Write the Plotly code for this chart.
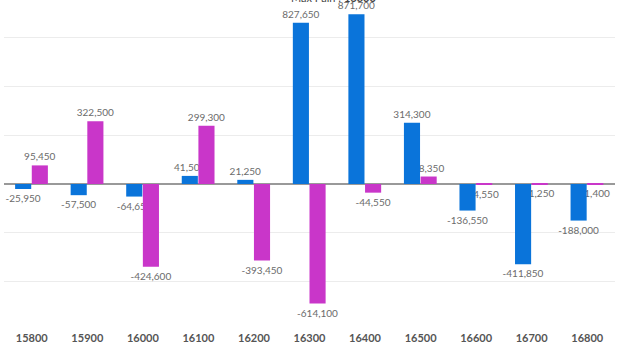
import plotly.graph_objects as go

# Strike prices and change in open interest per side
strikes = ["15800", "15900", "16000", "16100", "16200", "16300",
           "16400", "16500", "16600", "16700", "16800"]
call_oi = [-25950, -57500, -64650, 41500, 21250, 827650,
           871700, 314300, -136550, -411850, -188000]
put_oi = [95450, 322500, -424600, 299300, -393450, -614100,
          -44550, 38350, -4550, -1250, -1400]
max_pain = "16300"

CALL_COLOR = "#0A74DA"
PUT_COLOR = "#C936C9"
FONT = "Lato, sans-serif"
BAR_W = 0.29
OFFSETS = {"call": -0.30, "put": 0.0}


def fmt(v):
    return f"{v:,}"


fig = go.Figure()

# Value labels first (on invisible bars) so that the coloured bars sit on top
for key, vals in (("call", call_oi), ("put", put_oi)):
    fig.add_trace(go.Bar(
        x=strikes, y=vals, width=BAR_W, offset=OFFSETS[key],
        marker=dict(color="rgba(0,0,0,0)", line=dict(width=0)),
        text=[fmt(v) for v in vals], textposition="outside",
        outsidetextfont=dict(family=FONT, size=10, color="#6b6b6b"),
        constraintext="none", cliponaxis=False,
        hoverinfo="skip", showlegend=False,
    ))

# The bars themselves
for key, vals, color, name in (("call", call_oi, CALL_COLOR, "Call"),
                               ("put", put_oi, PUT_COLOR, "Put")):
    fig.add_trace(go.Bar(
        x=strikes, y=vals, width=BAR_W, offset=OFFSETS[key],
        marker=dict(color=color, line=dict(width=0)),
        name=name, showlegend=False,
    ))

fig.update_layout(
    width=620, height=346,
    margin=dict(l=4, r=5, t=0, b=16),
    barmode="overlay",
    plot_bgcolor="white", paper_bgcolor="white",
    font=dict(family=FONT),
    xaxis=dict(
        type="category", showgrid=False, showline=False, ticks="",
        tickfont=dict(family=FONT, size=11, color="#555555", weight="bold"),
    ),
    yaxis=dict(
        range=[-750000, 945000], tickvals=[-750000, -500000, -250000, 0,
                                           250000, 500000, 750000],
        showticklabels=False, showgrid=True, gridcolor="#ececec",
        gridwidth=1, zeroline=True, zerolinecolor="#999999",
        zerolinewidth=2,
    ),
    annotations=[dict(
        text=f"Max Pain : <b>{max_pain}</b>", xref="paper", yref="paper",
        x=0.54, y=1, xanchor="center", yanchor="bottom", yshift=-6,
        showarrow=False, font=dict(family=FONT, size=11, color="#444444"),
    )],
)

fig.write_html("out.html")
